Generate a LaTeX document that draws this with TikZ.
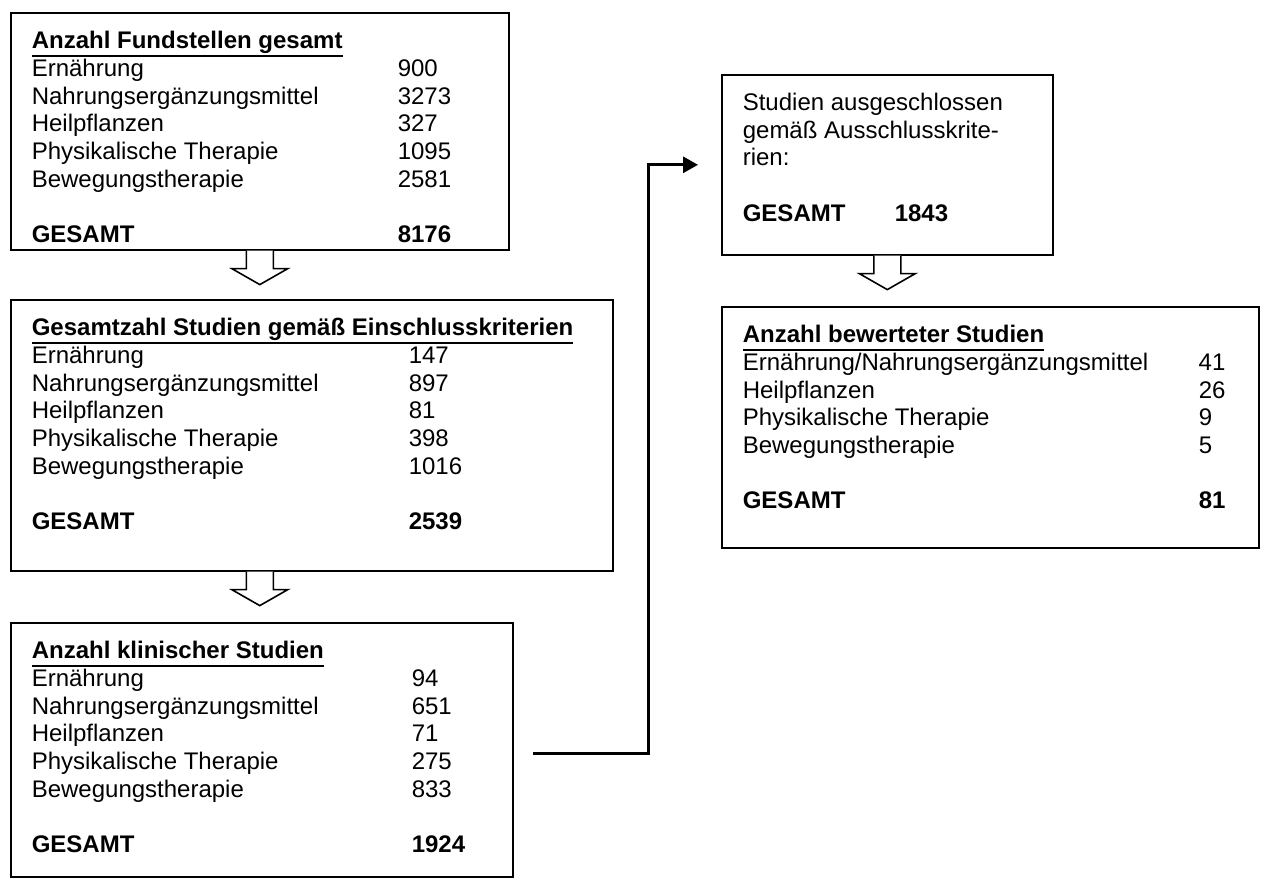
\documentclass[tikz,border=0pt]{standalone}
\usepackage{fontspec}
\setmainfont{Liberation Sans}
\usetikzlibrary{arrows.meta}

\newcommand{\headrule}[1]{\setbox0\hbox{\bfseries #1}\rlap{\rule[-4.3pt]{\wd0}{1.1pt}}\box0}
\newcommand{\panelbody}[3]{\parbox[c][#1][t]{#2}{\vspace*{8.3pt}#3}}

\begin{document}
\begin{tikzpicture}[
  x=0.5pt, y=-0.5pt,
  panel/.style={draw, line width=0.8pt, anchor=north west, inner xsep=10.5pt,
                inner ysep=0pt, align=left, font=\fontsize{12}{13.8}\selectfont},
  link/.style={line width=1.5pt, -{Triangle[length=7.5pt,width=8pt]}, shorten >=11.5pt},
  hollow/.pic={\draw[line width=0.8pt, fill=white]
    (-13.5,0) -- (-13.5,18) -- (-28,18) -- (0,34) -- (28,18) -- (13.5,18) -- (13.5,0);}
]
  \useasboundingbox (0,0) rectangle (1261,879);

  \node[panel] (fund) at (10,12) {\panelbody{118.5pt}{228pt}{%
    \begin{tabular}{@{}p{183pt}@{}l@{}}
      \multicolumn{2}{@{}l@{}}{\headrule{Anzahl Fundstellen gesamt}}\\
      Ernährung & 900\\
      Nahrungsergänzungsmittel & 3273\\
      Heilpflanzen & 327\\
      Physikalische Therapie & 1095\\
      Bewegungstherapie & 2581\\
      \\
      \textbf{GESAMT} & \textbf{8176}
    \end{tabular}}};

  \node[panel] (incl) at (10,299) {\panelbody{135.5pt}{280pt}{%
    \begin{tabular}{@{}p{188.5pt}@{}l@{}}
      \multicolumn{2}{@{}l@{}}{\headrule{Gesamtzahl Studien gemäß Einschlusskriterien}}\\
      Ernährung & 147\\
      Nahrungsergänzungsmittel & 897\\
      Heilpflanzen & 81\\
      Physikalische Therapie & 398\\
      Bewegungstherapie & 1016\\
      \\
      \textbf{GESAMT} & \textbf{2539}
    \end{tabular}}};

  \node[panel] (klin) at (10,622) {\panelbody{127pt}{230pt}{%
    \begin{tabular}{@{}p{190pt}@{}l@{}}
      \multicolumn{2}{@{}l@{}}{\headrule{Anzahl klinischer Studien}}\\
      Ernährung & 94\\
      Nahrungsergänzungsmittel & 651\\
      Heilpflanzen & 71\\
      Physikalische Therapie & 275\\
      Bewegungstherapie & 833\\
      \\
      \textbf{GESAMT} & \textbf{1924}
    \end{tabular}}};

  \node[panel] (excl) at (721,74) {\panelbody{90pt}{144.5pt}{%
    \begin{tabular}{@{}p{76pt}@{}l@{}}
      \multicolumn{2}{@{}l@{}}{Studien ausgeschlossen}\\
      \multicolumn{2}{@{}l@{}}{gemäß Ausschlusskrite-}\\
      \multicolumn{2}{@{}l@{}}{rien:}\\
      \\
      \textbf{GESAMT} & \textbf{1843}
    \end{tabular}}};

  \node[panel] (bew) at (721,306) {\panelbody{120.5pt}{247.5pt}{%
    \begin{tabular}{@{}p{228pt}@{}l@{}}
      \multicolumn{2}{@{}l@{}}{\headrule{Anzahl bewerteter Studien}}\\
      Ernährung/Nahrungsergänzungsmittel & 41\\
      Heilpflanzen & 26\\
      Physikalische Therapie & 9\\
      Bewegungstherapie & 5\\
      \\
      \textbf{GESAMT} & \textbf{81}
    \end{tabular}}};

  % Hollow arrows between the boxes
  \pic at (fund.south) {hollow};
  \pic at (fund.south |- incl.south) {hollow};
  \pic at (excl.south) {hollow};

  % Excluded studies
  \coordinate (kout) at (533,753);
  \draw[link] (kout) -- ++(115,0) |- (excl.west);

\end{tikzpicture}
\end{document}
